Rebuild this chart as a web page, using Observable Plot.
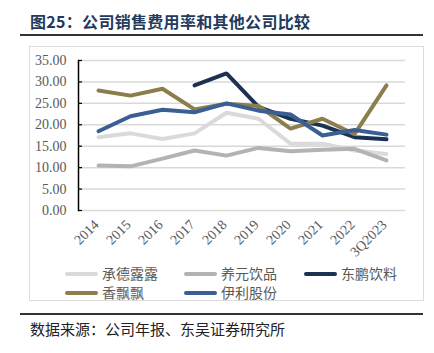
<!DOCTYPE html>
<html><head><meta charset="utf-8">
<script src="https://cdn.jsdelivr.net/npm/d3@7"></script>
<script src="https://cdn.jsdelivr.net/npm/@observablehq/plot@0.6"></script>
<style>
body{margin:0;background:#fff;width:434px;height:353px;position:relative;overflow:hidden;font-family:"Noto Sans CJK SC",sans-serif;}
#title{position:absolute;left:30px;top:9px;font-size:16px;font-weight:700;color:#243a5c;letter-spacing:0.3px;white-space:nowrap;}
.rule{position:absolute;left:20px;width:403px;height:2px;background:#333;}
#box{position:absolute;left:29px;top:46px;width:393px;height:253px;border:1px solid #dcdcdc;}
#chart{position:absolute;left:0;top:46px;}
.leg{position:absolute;font-size:14px;color:#595959;white-space:nowrap;line-height:16px;}
.sw{display:inline-block;width:33px;height:4px;border-radius:2px;vertical-align:middle;margin-right:4px;position:relative;top:-1px;}
#caption{position:absolute;left:30px;top:318px;font-size:15px;color:#222;white-space:nowrap;}
</style></head>
<body>
<div id="title">图25：公司销售费用率和其他公司比较</div>
<div class="rule" style="top:34px"></div>
<div id="box"></div>
<div id="chart"></div>
<div id="legend"></div>
<div class="rule" style="top:313px"></div>
<div id="caption">数据来源：公司年报、东吴证券研究所</div>
<script>
const years = ["2014","2015","2016","2017","2018","2019","2020","2021","2022","3Q2023"];
const seriesNames = ["承德露露","养元饮品","东鹏饮料","香飘飘","伊利股份"];
const colors = ["#dadada","#b3b3b3","#1b3252","#8c7e4c","#3b5f95"];
const chengde   = [17.1,18.0,16.7,18.0,22.8,21.4,15.6,15.6,14.0,13.2];
const yangyuan  = [10.5,10.3,12.1,14.0,12.8,14.6,13.8,14.2,14.4,11.7];
const dongpeng  = [null,null,null,29.2,32.0,24.2,21.4,19.8,17.1,16.6];
const xiangpp   = [28.0,26.8,28.4,23.6,24.9,24.4,19.1,21.4,17.8,29.2];
const yili      = [18.5,22.0,23.5,22.9,25.0,23.3,22.4,17.5,18.8,17.7];
const yTicks = [0,5,10,15,20,25,30,35];

const allSeries = [chengde, yangyuan, dongpeng, xiangpp, yili];
const data = [];
allSeries.forEach((vals, i) => {
  vals.forEach((v, j) => { if (v != null) data.push({series: seriesNames[i], year: years[j], value: v}); });
});

const plot = Plot.plot({
  width: 434,
  height: 216,
  marginLeft: 78,
  marginRight: 29,
  marginTop: 14,
  marginBottom: 52,
  style: {fontFamily: "'Liberation Serif', serif", fontSize: "14px", color: "#595959", background: "transparent", overflow: "visible"},
  x: {type: "point", domain: years, padding: 0.5},
  y: {domain: [0, 35]},
  color: {domain: seriesNames, range: colors},
  marks: [
    Plot.gridY(yTicks, {stroke: "#d9d9d9", strokeOpacity: 1, strokeWidth: 1.5}),
    Plot.axisY(yTicks, {tickSize: 0, tickPadding: 12, tickFormat: d3.format(".2f"), label: null, fill: "#595959"}),
    Plot.axisY(yTicks, {tickSize: -4, tickFormat: () => "", label: null, stroke: "#000", strokeWidth: 1.2}),
    Plot.axisX({tickSize: 0, tickPadding: 12, tickRotate: -45, label: null, fill: "#595959", dx: -2}),
    Plot.frame({anchor: "left", stroke: "#000", strokeWidth: 1.5}),
    Plot.line(data, {x: "year", y: "value", z: "series", stroke: "series", strokeWidth: 4, strokeLinejoin: "miter"})
  ]
});
document.getElementById("chart").appendChild(plot);

const legPos = [[65,265],[184,265],[304,265],[65,284],[184,284]];
const legend = document.getElementById("legend");
seriesNames.forEach((n, i) => {
  const d = document.createElement("div");
  d.className = "leg";
  d.style.left = legPos[i][0] + "px";
  d.style.top = legPos[i][1] + "px";
  d.innerHTML = `<span class="sw" style="background:${colors[i]}"></span>${n}`;
  legend.appendChild(d);
});
</script>
</body></html>
